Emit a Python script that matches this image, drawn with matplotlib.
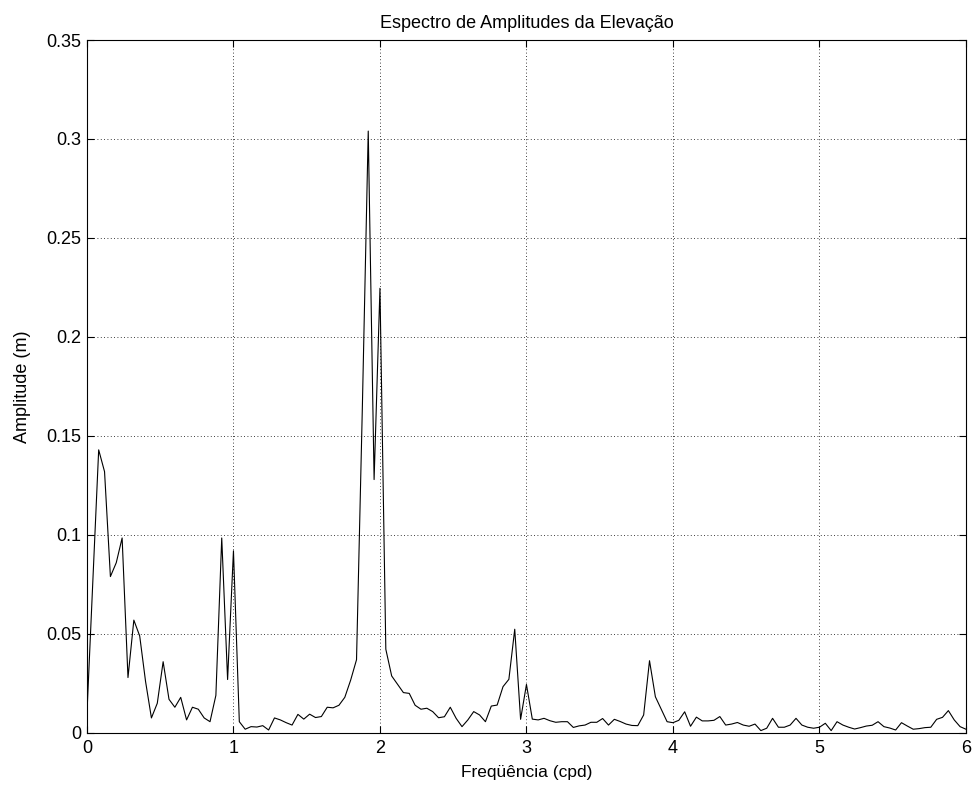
import numpy as np
import matplotlib
matplotlib.use("Agg")
import matplotlib.pyplot as plt

plt.rcParams['font.family'] = ['Liberation Sans', 'DejaVu Sans']

# Frequencies (cpd): uniform spectral grid 0..6 with step 0.04
freq = np.linspace(0, 6, 151)

amplitude = [
    0.010, 0.076, 0.143, 0.132, 0.079, 0.086, 0.0985, 0.028, 0.057, 0.049,
    0.026, 0.0076, 0.015, 0.036, 0.017, 0.013, 0.018, 0.0066, 0.013, 0.012,
    0.0076, 0.0057, 0.019, 0.0985, 0.027, 0.092, 0.0057, 0.0019, 0.0032, 0.003,
    0.0037, 0.0015, 0.0076, 0.0066, 0.0052, 0.004, 0.0094, 0.007, 0.0095, 0.0078,
    0.0083, 0.013, 0.0127, 0.014, 0.018, 0.0267, 0.037, 0.165, 0.304, 0.128,
    0.2246, 0.0423, 0.0288, 0.0246, 0.0204, 0.020, 0.014, 0.012, 0.0125, 0.0108,
    0.0077, 0.0082, 0.013, 0.0074, 0.0032, 0.0066, 0.0108, 0.0091, 0.0057, 0.0136,
    0.0141, 0.0234, 0.0271, 0.0524, 0.0069, 0.0245, 0.007, 0.0066, 0.0074, 0.0062,
    0.0054, 0.0057, 0.0057, 0.0028, 0.0036, 0.004, 0.0054, 0.0054, 0.0073, 0.004,
    0.0069, 0.0058, 0.0045, 0.0038, 0.0037, 0.0091, 0.0365, 0.0183, 0.012, 0.0057,
    0.0052, 0.0064, 0.0107, 0.0034, 0.008, 0.0061, 0.0061, 0.0064, 0.0083, 0.004,
    0.0045, 0.0053, 0.004, 0.0034, 0.0045, 0.0012, 0.0024, 0.0074, 0.0029, 0.0029,
    0.004, 0.0074, 0.004, 0.0029, 0.0024, 0.0029, 0.0049, 0.0012, 0.0057, 0.004,
    0.0029, 0.002, 0.0027, 0.0035, 0.0039, 0.0057, 0.0032, 0.0025, 0.0015, 0.0052,
    0.0035, 0.0019, 0.0022, 0.0027, 0.0029, 0.0069, 0.0079, 0.0113, 0.0066, 0.0032,
    0.0019,
]

xticks = [0, 1, 2, 3, 4, 5, 6]
xticklabels = ["0", "1", "2", "3", "4", "5", "6"]
yticks = [0, 0.05, 0.1, 0.15, 0.2, 0.25, 0.3, 0.35]
yticklabels = ["0", "0.05", "0.1", "0.15", "0.2", "0.25", "0.3", "0.35"]

title = "Espectro de Amplitudes da Elevação"
xlabel = "Freqüência (cpd)"
ylabel = "Amplitude (m)"

fig = plt.figure(figsize=(9.76, 7.89), dpi=100)
ax = fig.add_axes([0.0891, 0.071, 0.9006, 0.8783])

ax.plot(freq, amplitude, color='black', linewidth=0.8)

ax.set_xlim(0, 6)
ax.set_ylim(0, 0.35)
ax.set_xticks(xticks)
ax.set_xticklabels(xticklabels)
ax.set_yticks(yticks)
ax.set_yticklabels(yticklabels)

ax.grid(True, linestyle=(0, (1, 3)), color='black', linewidth=0.6)
ax.tick_params(direction='in', length=5, width=0.8, labelsize=13,
               top=True, right=True)
ax.tick_params(axis='y', pad=4)
ax.tick_params(axis='x', pad=5)
for s in ax.spines.values():
    s.set_linewidth(0.8)

ax.set_title(title, fontsize=13, pad=9)
ax.set_xlabel(xlabel, fontsize=12.5, labelpad=6)
ax.set_ylabel(ylabel, fontsize=13, labelpad=11)

fig.savefig("out.png", dpi=100)
